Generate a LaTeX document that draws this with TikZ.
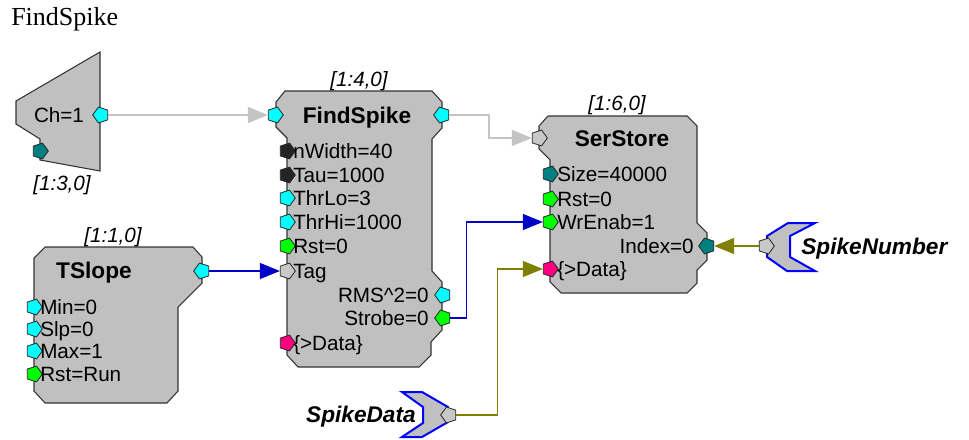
\documentclass[tikz,border=0pt]{standalone}
\usepackage{fontspec}
\setmainfont{Liberation Serif}
\setsansfont{Liberation Sans}
\usetikzlibrary{arrows.meta,shapes.geometric}

\definecolor{blockgray}{RGB}{192,192,192}
\definecolor{portcyan}{RGB}{0,255,255}
\definecolor{portteal}{RGB}{0,128,128}
\definecolor{portgreen}{RGB}{0,255,0}
\definecolor{portpink}{RGB}{255,0,128}
\definecolor{portblack}{RGB}{36,36,36}
\definecolor{portlight}{RGB}{200,200,200}
\definecolor{wiregrayc}{RGB}{196,196,196}
\definecolor{wirebluec}{RGB}{0,0,200}
\definecolor{wireolivec}{RGB}{128,128,0}
\definecolor{tagblue}{RGB}{0,0,255}

\begin{document}
\begin{tikzpicture}[x=0.75pt,y=-0.75pt]
\tikzset{
  blockbody/.style={fill=blockgray,draw=black!80,line width=0.8pt},
  tagbody/.style={fill=blockgray,draw=tagblue,line width=1.5pt},
  portin/.style={regular polygon,regular polygon sides=5,shape border rotate=-90,draw=black!85,line width=0.6pt,minimum size=12.5pt,inner sep=0pt},
  portout/.style={portin,shape border rotate=90},
  portlabel/.style={font=\sffamily\fontsize{15.5}{16}\selectfont,inner sep=0pt,text height=11pt,text depth=0pt},
  blocktitle/.style={font=\sffamily\bfseries\fontsize{17}{18}\selectfont,inner sep=0pt,text height=12.2pt,text depth=0pt},
  blockindex/.style={font=\sffamily\itshape\fontsize{15.5}{16}\selectfont,inner sep=0pt,text height=11pt,text depth=0pt},
  tagname/.style={font=\sffamily\bfseries\itshape\fontsize{17}{18}\selectfont,inner sep=0pt,text height=12.2pt,text depth=0pt},
  wiregray/.style={draw=wiregrayc,line width=1.1pt,-{Triangle[length=15pt,width=12pt]}},
  wireblue/.style={draw=wirebluec,line width=0.9pt,-{Triangle[length=15pt,width=12pt]}},
  wireolive/.style={draw=wireolivec,line width=0.9pt,-{Triangle[length=15pt,width=12pt]}}
}
\useasboundingbox (0,0) rectangle (969,439);

\node[anchor=base west,inner sep=0pt,font=\rmfamily\fontsize{19.5}{20}\selectfont] (title) at (11,25) {FindSpike};

% Ch=1
\draw[blockbody] (16,101) -- (100,52) -- (100,171) -- (40,160) -- (40,139) -- (16,124) -- cycle;
\node[portlabel] (ch_val) at (59,115) {Ch=1};
\node[portout,fill=portcyan] (ch_out) at (101,115) {};
\node[portin,fill=portteal] (ch_aux) at (40,151) {};
\node[blockindex] (ch_idx) at (62,183) {[1:3,0]};

% FindSpike
\draw[blockbody] (285,91) -- (432,91) -- (442,102) -- (442,128) -- (432,139) -- (432,271)
  -- (442,282) -- (442,330) -- (431,342) -- (431,355) -- (419,367) -- (298,367)
  -- (287,355) -- (287,138) -- (276,127) -- (276,102) -- cycle;
\node[blocktitle] (fs_title) at (357,115) {FindSpike};
\node[blockindex] (fs_idx) at (359,79) {[1:4,0]};
\node[portin,fill=portcyan] (fs_in) at (275,115) {};
\node[portout,fill=portcyan] (fs_out) at (442,115) {};
\node[portin,fill=portblack] (fs_nwidth) at (287,151) {};
\node[portin,fill=portblack] (fs_tau) at (287,175) {};
\node[portin,fill=portcyan] (fs_thrlo) at (287,198) {};
\node[portin,fill=portcyan] (fs_thrhi) at (287,222) {};
\node[portin,fill=portgreen] (fs_rst) at (287,246) {};
\node[portin,fill=portlight] (fs_tag) at (287,271) {};
\node[portin,fill=portpink] (fs_data) at (287,343) {};
\node[portlabel,anchor=west] at (293,151) {nWidth=40};
\node[portlabel,anchor=west] at (293,175) {Tau=1000};
\node[portlabel,anchor=west] at (293,198) {ThrLo=3};
\node[portlabel,anchor=west] at (293,222) {ThrHi=1000};
\node[portlabel,anchor=west] at (293,246) {Rst=0};
\node[portlabel,anchor=west] at (293,271) {Tag};
\node[portlabel,anchor=west] at (293,343) {\{>Data\}};
\node[portout,fill=portcyan] (fs_rms) at (443,295) {};
\node[portout,fill=portgreen] (fs_strobe) at (443,318) {};
\node[portlabel,anchor=east] at (429,295) {RMS\^{}2=0};
\node[portlabel,anchor=east] at (429,318) {Strobe=0};

% SerStore
\draw[blockbody] (548,116) -- (687,116) -- (697,126) -- (697,223) -- (707,233) -- (707,260)
  -- (697,270) -- (697,283) -- (687,293) -- (561,293) -- (550,282) -- (550,160)
  -- (539,149) -- (539,126) -- cycle;
\node[blocktitle] (ss_title) at (622,138) {SerStore};
\node[blockindex] (ss_idx) at (617,103) {[1:6,0]};
\node[portin,fill=portlight] (ss_in) at (539,138) {};
\node[portin,fill=portteal] (ss_size) at (550,174) {};
\node[portin,fill=portgreen] (ss_rst) at (550,199) {};
\node[portin,fill=portgreen] (ss_wrenab) at (550,222) {};
\node[portin,fill=portpink] (ss_data) at (550,269) {};
\node[portlabel,anchor=west] at (557,174) {Size=40000};
\node[portlabel,anchor=west] at (557,199) {Rst=0};
\node[portlabel,anchor=west] at (557,222) {WrEnab=1};
\node[portlabel,anchor=west] at (557,269) {\{>Data\}};
\node[portout,fill=portteal] (ss_index) at (707,246) {};
\node[portlabel,anchor=east] at (694,246) {Index=0};

% TSlope
\draw[blockbody] (45,247) -- (193,247) -- (202,257) -- (202,283) -- (178,307) -- (178,391)
  -- (167,403) -- (45,403) -- (34,391) -- (34,258) -- cycle;
\node[blocktitle] (ts_title) at (94,270) {TSlope};
\node[blockindex] (ts_idx) at (113,235) {[1:1,0]};
\node[portout,fill=portcyan] (ts_out) at (202,271) {};
\node[portin,fill=portcyan] (ts_min) at (34,307) {};
\node[portin,fill=portcyan] (ts_slp) at (34,329) {};
\node[portin,fill=portcyan] (ts_max) at (34,351) {};
\node[portin,fill=portgreen] (ts_rst) at (34,374) {};
\node[portlabel,anchor=west] at (40,307) {Min=0};
\node[portlabel,anchor=west] at (40,329) {Slp=0};
\node[portlabel,anchor=west] at (40,351) {Max=1};
\node[portlabel,anchor=west] at (40,374) {Rst=Run};

% tags
\draw[tagbody] (788,223) -- (815,223) -- (790,236) -- (790,257) -- (815,271) -- (787,271)
  -- (767,257) -- (767,236) -- cycle;
\node[portin,fill=portlight] (sn_in) at (766,246) {};
\node[tagname,anchor=west] (sn_name) at (801,246) {SpikeNumber};
\draw[tagbody] (402,392) -- (422,392) -- (448,407) -- (448,422) -- (422,437) -- (402,437)
  -- (423,423) -- (423,407) -- cycle;
\node[portout,fill=portlight] (sd_out) at (449,415) {};
\node[tagname,anchor=east] (sd_name) at (416,414) {SpikeData};

% wires
\draw[wiregray] (ch_out.east) -- (fs_in.west);
\draw[wiregray] (fs_out.east) -- ++(40,0) |- (ss_in.west);
\draw[wireblue] (ts_out.east) -- (fs_tag.west);
\draw[wireblue] (fs_strobe.east) -- ++(16,0) |- (ss_wrenab.west);
\draw[wireolive] (sd_out.east) -- ++(41,0) |- (ss_data.west);
\draw[wireolive] (sn_in.west) -- (ss_index.east);
\end{tikzpicture}
\end{document}
